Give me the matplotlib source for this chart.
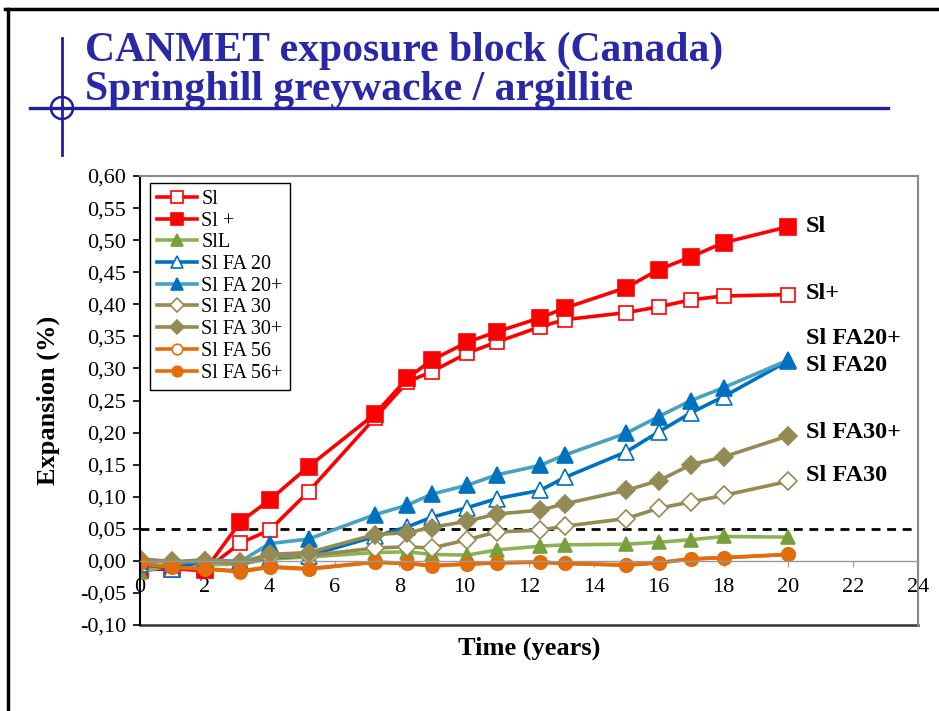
import matplotlib
matplotlib.use("Agg")
import matplotlib.pyplot as plt
from matplotlib.lines import Line2D
from matplotlib.patches import Circle
from matplotlib.ticker import FuncFormatter, MultipleLocator

plt.rcParams["font.family"] = ["Liberation Serif", "DejaVu Serif"]

# time in years
years = [0, 1, 2, 3.1, 4.0, 5.2, 7.25, 8.25, 9.0, 10.1, 11.0, 12.35, 13.1, 15.0, 16.0, 17.0, 18.0, 20.0]

# expansion (%)
sl = [-0.014, -0.012, -0.015, 0.028, 0.048, 0.108, 0.223, 0.279, 0.295, 0.324, 0.341, 0.365,
      0.376, 0.387, 0.396, 0.407, 0.413, 0.415]
sl_plus = [-0.014, -0.012, -0.015, 0.061, 0.095, 0.147, 0.229, 0.285, 0.313, 0.341, 0.357, 0.379,
           0.394, 0.426, 0.454, 0.474, 0.496, 0.521]
sl_l = [-0.018, -0.006, -0.006, -0.005, 0.003, 0.006, 0.013, 0.014, 0.010, 0.009, 0.017, 0.023,
        0.025, 0.026, 0.029, 0.033, 0.038, 0.037]
fa20 = [-0.005, -0.012, 0.000, -0.003, 0.005, 0.008, 0.038, 0.053, 0.068, 0.083, 0.097, 0.110,
        0.130, 0.170, 0.201, 0.231, 0.256, 0.312]
fa20_plus = [0.000, -0.002, 0.002, -0.001, 0.027, 0.034, 0.072, 0.087, 0.104, 0.118, 0.134, 0.149,
             0.165, 0.199, 0.225, 0.250, 0.270, 0.313]
fa30 = [0.002, -0.002, -0.001, -0.004, 0.006, 0.008, 0.020, 0.022, 0.020, 0.033, 0.045, 0.048,
        0.054, 0.066, 0.082, 0.092, 0.102, 0.124]
fa30_plus = [0.003, -0.001, 0.000, -0.002, 0.010, 0.013, 0.041, 0.044, 0.052, 0.062, 0.073, 0.079,
             0.089, 0.110, 0.125, 0.150, 0.162, 0.195]
fa56 = [-0.004, -0.010, -0.012, -0.016, -0.009, -0.012, -0.002, -0.004, -0.007, -0.005, -0.003,
        -0.002, -0.004, -0.006, -0.003, 0.003, 0.005, 0.010]
fa56_plus = [-0.004, -0.010, -0.013, -0.017, -0.010, -0.013, -0.002, -0.004, -0.008, -0.005, -0.003,
             -0.002, -0.004, -0.007, -0.003, 0.003, 0.005, 0.010]

limit = 0.05

end_labels = ["Sl", "Sl+", "Sl FA20+", "Sl FA20", "Sl FA30+", "Sl FA30"]
end_label_y = [0.521, 0.417, 0.347, 0.304, 0.200, 0.133]

RED = "#FF0000"
GREEN_L, GREEN_M = "#8DB255", "#77A03C"
BLUE = "#0070C0"
TEAL = "#45A3C0"
OLIVE = "#948A54"
ORANGE = "#E46C0A"
NAVY = "#1E1EA0"

series = [
    ("Sl", sl, dict(color=RED, marker="s", mfc="white", mec=RED, ms=10.5)),
    ("Sl +", sl_plus, dict(color=RED, marker="s", mfc=RED, mec=RED, ms=11)),
    ("SlL", sl_l, dict(color=GREEN_L, marker="^", mfc=GREEN_M, mec=GREEN_M, ms=10)),
    ("Sl FA 20", fa20, dict(color=BLUE, marker="^", mfc="white", mec=BLUE, ms=11)),
    ("Sl FA 20+", fa20_plus, dict(color=TEAL, marker="^", mfc=BLUE, mec=BLUE, ms=11.5)),
    ("Sl FA 30", fa30, dict(color=OLIVE, marker="D", mfc="white", mec=OLIVE, ms=9.5)),
    ("Sl FA 30+", fa30_plus, dict(color=OLIVE, marker="D", mfc=OLIVE, mec=OLIVE, ms=9.5)),
    ("Sl FA 56", fa56, dict(color=ORANGE, marker="o", mfc="white", mec=ORANGE, ms=9.5)),
    ("Sl FA 56+", fa56_plus, dict(color=ORANGE, marker="o", mfc=ORANGE, mec=ORANGE, ms=9.5)),
]

fig = plt.figure(figsize=(9.39, 7.11), dpi=100)
ax = fig.add_axes([140 / 939, 1 - 625 / 711, 778 / 939, 449 / 711])

for name, vals, style in series:
    ax.plot(years, vals, lw=2.6, label=name, mew=1.2, **style)

ax.axhline(limit, color="black", lw=2, ls=(0, (3.2, 2.4)), zorder=1)

for txt, yv in zip(end_labels, end_label_y):
    ax.text(20.55, yv, txt, fontsize=17.5, fontweight="bold", va="center", ha="left")

ax.set_xlim(0, 24)
ax.set_ylim(-0.10, 0.60)
ax.xaxis.set_major_locator(MultipleLocator(2))
ax.yaxis.set_major_locator(MultipleLocator(0.05))
ax.yaxis.set_major_formatter(FuncFormatter(lambda v, p: f"{v:.2f}".replace(".", ",")))

# horizontal axis crosses at zero, plot area framed
ax.spines["bottom"].set_position(("data", 0))
ax.spines["bottom"].set_color("#9A9A9A")
ax.spines["bottom"].set_linewidth(1)
ax.spines["top"].set_color("#8A8A8A")
ax.spines["right"].set_color("#8A8A8A")
ax.spines["top"].set_linewidth(1.5)
ax.spines["right"].set_linewidth(1.5)
ax.spines["left"].set_linewidth(1.5)
ax.add_line(Line2D([0, 1], [0, 0], transform=ax.transAxes, color="#333333", lw=1.8, clip_on=False))

ax.tick_params(axis="x", direction="out", length=4, color="#9A9A9A", labelsize=16, pad=8)
ax.tick_params(axis="y", direction="out", length=5, width=1.2, labelsize=16, pad=5)

ax.set_xlabel("Time (years)", fontsize=19, fontweight="bold")
ax.xaxis.set_label_coords(0.5, -0.025)
ax.set_ylabel("Expansion (%)", fontsize=19, fontweight="bold")
ax.yaxis.set_label_coords(-0.103, 0.5)

leg = ax.legend(loc="upper left", bbox_to_anchor=(0.013, 0.985), fontsize=14.5, frameon=True,
                fancybox=False, edgecolor="black", framealpha=1, borderaxespad=0,
                handlelength=2.0, handletextpad=0.2, labelspacing=0.13, borderpad=0.35,
                markerscale=0.8)
leg.get_frame().set_linewidth(1)

# slide title and decoration
fig.text(85 / 939, 1 - 61 / 711, "CANMET exposure block (Canada)", fontsize=30, fontweight="bold",
         color="#2828A8", va="baseline", ha="left")
fig.text(85 / 939, 1 - 100 / 711, "Springhill greywacke / argillite", fontsize=30, fontweight="bold",
         color="#2828A8", va="baseline", ha="left")
fig.add_artist(Line2D([30 / 939, 888 / 939], [1 - 108 / 711] * 2, color=NAVY, lw=2.4))
fig.add_artist(Line2D([62 / 939] * 2, [1 - 38 / 711, 1 - 155 / 711], color=NAVY, lw=2))
fig.add_artist(Circle((62, 711 - 108), 11, transform=None, fill=False, edgecolor=NAVY, lw=1.8))

# slide border
fig.add_artist(Line2D([5 / 939, 1], [1 - 9 / 711] * 2, color="black", lw=2.5))
fig.add_artist(Line2D([8 / 939] * 2, [0, 1 - 9 / 711], color="black", lw=2.5))

fig.savefig("out.png", dpi=100)
